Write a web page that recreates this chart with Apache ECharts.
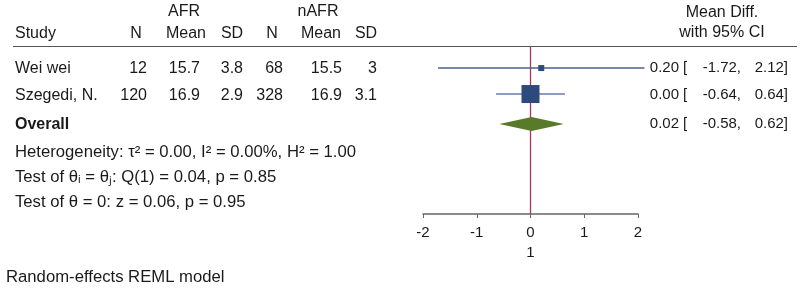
<!DOCTYPE html>
<html>
<head>
<meta charset="utf-8">
<script src="https://cdn.jsdelivr.net/npm/echarts@6/dist/echarts.min.js"></script>
<style>
  html, body { margin: 0; padding: 0; background: #fff; }
  #main { width: 810px; height: 291px; }
</style>
</head>
<body>
<div id="main"></div>
<script>
// study table
var studies = ['Wei wei', 'Szegedi, N.'];
var afrN = ['12', '120'];
var afrMean = ['15.7', '16.9'];
var afrSD = ['3.8', '2.9'];
var nafrN = ['68', '328'];
var nafrMean = ['15.5', '16.9'];
var nafrSD = ['3', '3.1'];

// effect sizes (mean diff, 95% CI) and weights
var effect = [0.20, 0.00];
var lower = [-1.72, -0.64];
var upper = [2.12, 0.64];
var weights = [10, 90];
var overall = [0.02, -0.58, 0.62];

var stats = [
  'Heterogeneity: \u03c4\u00b2 = 0.00, I\u00b2 = 0.00%, H\u00b2 = 1.00',
  'Test of \u03b8\u1d62 = \u03b8\u2c7c: Q(1) = 0.04, p = 0.85',
  'Test of \u03b8 = 0: z = 0.06, p = 0.95'
];
var footer = 'Random-effects REML model';
var xTicks = [-2, -1, 0, 1, 2];

// row slots on the y axis (study rows, then overall)
var rowY = [1, 2, 3.15];

var FONT = '"Liberation Sans", Arial, Helvetica, sans-serif';
var TXT = '#1a1a1a';
var FS = 16;

function fmt(v) { return v.toFixed(2); }

function txt(s, x, y, align, bold, size) {
  return {
    type: 'text', x: x, y: y, silent: true,
    style: {
      text: s, fill: TXT, align: align || 'left', verticalAlign: 'middle',
      font: (bold ? 'bold ' : '') + (size || FS) + 'px ' + FONT
    }
  };
}

var graphics = [];
// headers
graphics.push(txt('AFR', 184, 12, 'center'));
graphics.push(txt('nAFR', 318, 12, 'center'));
graphics.push(txt('Study', 15, 34));
[['N', 136], ['Mean', 186], ['SD', 232], ['N', 272], ['Mean', 321], ['SD', 366]].forEach(function (h) {
  graphics.push(txt(h[0], h[1], 34, 'center'));
});
graphics.push(txt('Mean Diff.', 722, 13, 'center'));
graphics.push(txt('with 95% CI', 722, 33, 'center'));
graphics.push({
  type: 'line', silent: true,
  shape: { x1: 13, y1: 46.5, x2: 797, y2: 46.5 },
  style: { stroke: '#555', lineWidth: 1 }
});

// table rows
var rowTextY = [69, 96, 125];
var colRight = [147, 200, 243, 283, 342, 377];
studies.forEach(function (s, i) {
  var y = rowTextY[i];
  graphics.push(txt(s, 15, y));
  [afrN[i], afrMean[i], afrSD[i], nafrN[i], nafrMean[i], nafrSD[i]].forEach(function (v, c) {
    graphics.push(txt(v, colRight[c], y, 'right'));
  });
});
graphics.push(txt('Overall', 15, rowTextY[2], 'left', true));

// effect text on the right
var estAll = effect.concat([overall[0]]);
var loAll = lower.concat([overall[1]]);
var hiAll = upper.concat([overall[2]]);
estAll.forEach(function (e, i) {
  var y = rowTextY[i] - 1;
  graphics.push(txt(fmt(e), 679, y, 'right', false, 15));
  graphics.push(txt('[', 683, y, 'left', false, 15));
  graphics.push(txt(fmt(loAll[i]) + ',', 741, y, 'right', false, 15));
  graphics.push(txt(fmt(hiAll[i]) + ']', 788, y, 'right', false, 15));
});

// stats and footer
[152, 177, 202].forEach(function (y, i) {
  graphics.push(txt(stats[i], 15, y, 'left', false, 16.7));
});
graphics.push(txt(footer, 6, 277, 'left', false, 16.7));

var studyData = studies.map(function (s, i) {
  return [rowY[i], effect[i], lower[i], upper[i], weights[i]];
});

var chart = echarts.init(document.getElementById('main'), null, { renderer: 'canvas' });
chart.setOption({
  animation: false,
  backgroundColor: '#fff',
  textStyle: { fontFamily: FONT },
  graphic: graphics,
  grid: { left: 423, right: 172, top: 46, bottom: 77 },
  xAxis: {
    type: 'value', min: xTicks[0], max: xTicks[xTicks.length - 1], interval: 1,
    splitLine: { show: false },
    axisLine: { show: true, onZero: false, lineStyle: { color: '#666', width: 1.5 } },
    axisTick: { show: true, inside: false, length: 4, lineStyle: { color: '#666' } },
    axisLabel: { color: TXT, fontSize: 15, margin: 11, fontFamily: FONT },
    name: '1', nameLocation: 'middle', nameGap: 28,
    nameTextStyle: { color: TXT, fontSize: 15, fontFamily: FONT }
  },
  yAxis: {
    type: 'value', min: 0.15, max: 6.62, inverse: true, show: false
  },
  series: [
    {
      type: 'line', data: [[0, 0.15], [0, 6.62]], symbol: 'none', silent: true,
      lineStyle: { color: '#a33b5e', width: 1.3 }, z: 1
    },
    {
      type: 'custom', z: 3, clip: false,
      data: studyData,
      renderItem: function (params, api) {
        var y = api.value(0);
        var c = api.coord([api.value(1), y]);
        var l = api.coord([api.value(2), y]);
        var h = api.coord([api.value(3), y]);
        var size = 18 * Math.sqrt(api.value(4) / 90);
        var light = params.dataIndex === 1;
        return {
          type: 'group',
          children: [
            {
              type: 'line',
              shape: { x1: l[0], y1: c[1], x2: h[0], y2: c[1] },
              style: { stroke: light ? '#8e9cc2' : '#4d5f90', lineWidth: light ? 2 : 1.4 }
            },
            {
              type: 'rect',
              shape: { x: c[0] - size / 2, y: c[1] - size / 2, width: size, height: size },
              style: { fill: '#2c4b7c' }
            }
          ]
        };
      }
    },
    {
      type: 'custom', z: 3, clip: false,
      data: [[rowY[2], overall[0], overall[1], overall[2]]],
      renderItem: function (params, api) {
        var y = api.value(0);
        var c = api.coord([api.value(1), y]);
        var l = api.coord([api.value(2), y]);
        var h = api.coord([api.value(3), y]);
        var hh = 7;
        return {
          type: 'polygon',
          shape: { points: [[l[0], c[1]], [c[0], c[1] - hh], [h[0], c[1]], [c[0], c[1] + hh]] },
          style: { fill: '#5a7a2b' }
        };
      }
    }
  ]
});
</script>
</body>
</html>
